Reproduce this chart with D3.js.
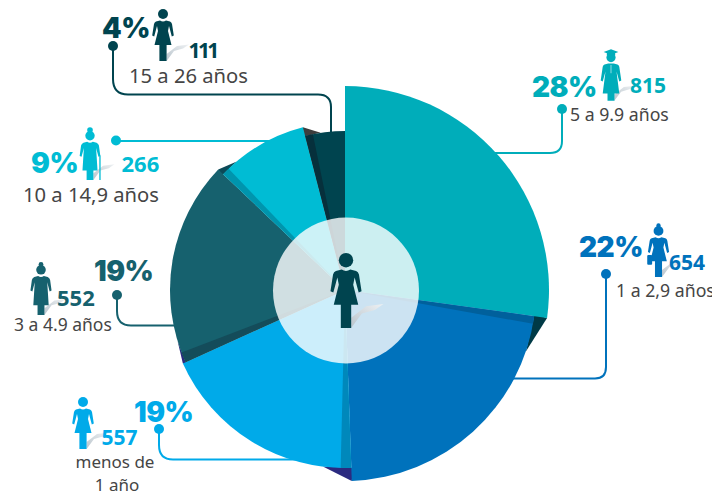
<!DOCTYPE html>
<html>
<head>
<meta charset="utf-8">
<script src="https://cdn.jsdelivr.net/npm/d3@7"></script>
<style>
  html, body { margin: 0; padding: 0; background: #fff; }
  svg { display: block; }
  text { font-family: "Noto Sans", sans-serif; }
  .pct { font-family: "Inter", sans-serif; font-weight: 900; letter-spacing: -0.5px; }
  .num { font-weight: 700; }
  .age { fill: #454545; }
</style>
</head>
<body>
<div id="vis"></div>
<script>
const width = 712, height = 496

// Data, clockwise from 12 o'clock
const ages = ['5 a 9.9 años', '1 a 2,9 años', 'menos de 1 año', '3 a 4.9 años', '10 a 14,9 años', '15 a 26 años']
const counts = [815, 654, 557, 552, 266, 111]
const percents = ['28%', '22%', '19%', '19%', '9%', '4%']

// Look of the slices
const colors = ['#00adba', '#0072bc', '#00aae9', '#16616e', '#00bcd4', '#00444f']
const radii = [204, 191, 178, 175, 168, 159]
const nudges = [-1.4, -1, -1.2, -0.5, -1, 0] // degrees, the original is hand drawn
const foldColors = ['none', '#00609c', '#0088bb', '#144c5a', '#0095ad', '#06303c']
const foldWidths = [0, 0.04, 0.06, 0.06, 0.045, 0.05]
const tipColors = ['#003a46', '#2b2a80', '#2b2a80', '#0c4a58', '#3d3d3d']
const tipWidths = [0.19, 0.16, 0.13, 0.11, 0.1]

const cx = 345, cy = 290, innerR = 73

const svg = d3.select('#vis').append('svg')
    .attr('width', width)
    .attr('height', height)

const defs = svg.append('defs')
const grad = defs.append('linearGradient').attr('id', 'shade')
    .attr('x1', 0).attr('y1', 1).attr('x2', 1).attr('y2', 0)
grad.append('stop').attr('offset', 0).attr('stop-color', '#b9c4cc')
grad.append('stop').attr('offset', 1).attr('stop-color', '#eef1f3')

// Leaders, under the slices
const leaders = [
    {c: 0, d: 'M490,153 H550 Q562,153 562,141 V110', dot: [562, 109]},
    {c: 1, d: 'M510,378.5 H595 Q606,378.5 606,367 V274', dot: [606, 274]},
    {c: 2, d: 'M300,459.5 H173 Q159,459.5 159,445 V429', dot: [159, 429]},
    {c: 3, d: 'M190,325.5 H131 Q117,325.5 117,311 V295', dot: [117, 295]},
    {c: 4, d: 'M280,141 H116', dot: [116, 140.5]},
    {c: 5, d: 'M331,140 V107 Q331,94.5 318,94.5 H128 Q113,94.5 113,79 V46', dot: [113, 46]}
]
leaders.forEach(l => {
    svg.append('path')
        .attr('d', l.d)
        .attr('fill', 'none')
        .attr('stroke', colors[l.c])
        .attr('stroke-width', 2)
    svg.append('circle')
        .attr('cx', l.dot[0]).attr('cy', l.dot[1]).attr('r', 5)
        .attr('fill', colors[l.c])
})

const rad = deg => deg * Math.PI / 180
const pie = d3.pie().sort(null).value(d => d)
const arcs = pie(counts)
arcs.forEach((d, i) => {
    d.startAngle += i > 0 ? rad(nudges[i - 1]) : 0
    d.endAngle += rad(nudges[i])
})
const arc = d3.arc()
const g = svg.append('g').attr('transform', `translate(${cx},${cy})`)

// Slivers peeking out from behind the next slice
arcs.slice(0, -1).forEach((d, i) => {
    const a = d.endAngle
    const pts = [
        d3.pointRadial(a, radii[i]),
        d3.pointRadial(a + tipWidths[i], radii[i + 1]),
        d3.pointRadial(a - 0.01, radii[i + 1])
    ]
    g.append('path')
        .attr('d', d3.line()(pts) + 'Z')
        .attr('fill', tipColors[i])
})

// Slices
arcs.forEach((d, i) => {
    g.append('path')
        .attr('d', arc({innerRadius: 0, outerRadius: radii[i], startAngle: d.startAngle, endAngle: d.endAngle}))
        .attr('fill', colors[i])
})

// Fold shadow on the start edge of each slice
arcs.forEach((d, i) => {
    if (i === 0) return
    g.append('path')
        .attr('d', arc({innerRadius: 0, outerRadius: radii[i], startAngle: d.startAngle, endAngle: d.startAngle + foldWidths[i]}))
        .attr('fill', foldColors[i])
})

// Centre disc
svg.append('circle').attr('cx', 346).attr('cy', 290.5).attr('r', innerR)
    .attr('fill', '#fff').attr('fill-opacity', 0.8)

// Figures, drawn 52 units tall from the top of the head
const bodies = {
    dress: 'M-3,11.5 Q0,13.5 3,11.5 L7,12.5 Q8.5,13 9,15 L10.8,26.5 L8.8,27.5 L6,17 L5,22 L8.5,36 L3.6,36 L3.6,52 L-3.6,52 L-3.6,36 L-8.5,36 L-5,22 L-6,17 L-8.8,27.5 L-10.8,26.5 L-9,15 Q-8.5,13 -7,12.5 Z',
    long: 'M-3,11.5 Q0,13.5 3,11.5 L7,12.5 Q9,13.5 9.5,15.5 L11,26.5 L9,27.5 L6.5,18 L8,42 L3.6,42 L3.6,52 L-3.6,52 L-3.6,42 L-8,42 L-6.5,18 L-9,27.5 L-11,26.5 L-9.5,15.5 Q-9,13.5 -7,12.5 Z',
    gown: 'M-3,11.5 L3,11.5 L7,12.5 Q8.5,13 9,15 L11.2,30 L9,31 L6,20 L9,44 L3.8,44 L3.8,52 L-3.8,52 L-3.8,44 L-9,44 L-6,20 L-9,31 L-11.2,30 L-9,15 Q-8.5,13 -7,12.5 Z'
}

function person(x, y, s, color, body) {
    const p = svg.append('g').attr('transform', `translate(${x},${y}) scale(${s})`)
    p.append('path')
        .attr('d', 'M3.6,52 L3.6,45 L14,37 L26,35.5 L20,39.5 L11,42 Z')
        .attr('fill', 'url(#shade)')
    p.append('circle').attr('cy', 5).attr('r', 5).attr('fill', color)
    p.append('path').attr('d', bodies[body]).attr('fill', color)
    return p
}

const grad5 = person(611, 53, 0.92, colors[0], 'gown')
grad5.append('path').attr('d', 'M-8,-1 L0,-4 L8,-1 L0,2 Z').attr('fill', colors[0])
grad5.append('rect').attr('x', -4.5).attr('y', -0.5).attr('width', 9).attr('height', 3).attr('fill', colors[0])
grad5.append('path').attr('d', 'M0,13 V22').attr('stroke', '#fff').attr('stroke-width', 0.6)

const worker = person(658.5, 226, 0.98, colors[1], 'dress')
worker.append('circle').attr('cy', -0.5).attr('r', 2.2).attr('fill', colors[1])
worker.append('rect').attr('x', -11.5).attr('y', 29.5).attr('width', 5).attr('height', 10).attr('rx', 1).attr('fill', colors[1])

person(83, 397, 1, colors[2], 'dress')

const young = person(41, 265, 0.96, colors[3], 'long')
young.append('circle').attr('cy', -0.5).attr('r', 2.5).attr('fill', colors[3])

const granny = person(90, 131, 0.94, colors[4], 'long')
granny.append('circle').attr('cy', -1).attr('r', 3).attr('fill', colors[4])
granny.append('path').attr('d', 'M10.6,26 V52').attr('stroke', colors[4]).attr('stroke-width', 1.4).attr('fill', 'none')

person(163, 9, 1, colors[5], 'dress')
person(346, 253, 1.44, colors[5], 'dress')

// Labels: [x, baseline, font size]
const labels = [
    {i: 0, pct: [532, 96.7], num: [630, 92.5, 21], age: [570, 120.7, 17.7]},
    {i: 1, pct: [579, 256.7], num: [669, 270, 21], age: [616, 297.3, 17.7]},
    {i: 2, pct: [134, 422], num: [101.5, 444.7, 21]},
    {i: 3, pct: [94, 281.3], num: [57, 306.3, 22], age: [14, 331.3, 17.5]},
    {i: 4, pct: [31, 173.3], num: [121.5, 171.7, 22], age: [23, 201.7, 20.2]},
    {i: 5, pct: [102, 37.7], num: [188.5, 58.3, 21, -2.6], age: [129, 82.7, 20.2]}
]
labels.forEach(l => {
    svg.append('text').attr('class', 'pct')
        .attr('x', l.pct[0]).attr('y', l.pct[1]).attr('font-size', 28)
        .attr('fill', colors[l.i]).text(percents[l.i])
    svg.append('text').attr('class', 'num')
        .attr('x', l.num[0]).attr('y', l.num[1]).attr('font-size', l.num[2])
        .attr('letter-spacing', l.num[3] || 0)
        .attr('fill', colors[l.i]).text(counts[l.i])
    if (l.age) {
        svg.append('text').attr('class', 'age')
            .attr('x', l.age[0]).attr('y', l.age[1]).attr('font-size', l.age[2])
            .text(ages[l.i])
    }
})
// "menos de 1 año" breaks over two lines
const split = ages[2].split(' de ')
svg.append('text').attr('class', 'age').attr('x', 115).attr('y', 468).attr('font-size', 17)
    .attr('text-anchor', 'middle').text(split[0] + ' de')
svg.append('text').attr('class', 'age').attr('x', 117).attr('y', 491.3).attr('font-size', 17)
    .attr('text-anchor', 'middle').text(split[1])
</script>
</body>
</html>
